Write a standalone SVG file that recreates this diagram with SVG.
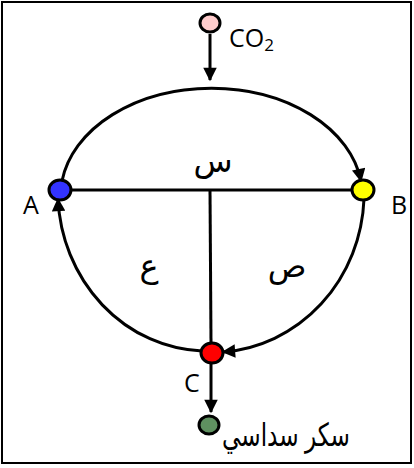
<svg xmlns="http://www.w3.org/2000/svg" width="414" height="468" viewBox="0 0 414 468">
<style>
.ln{fill:none;stroke:#000;stroke-width:3}
.nd{stroke:#000;stroke-width:3}
.t{font-family:"Open Sans","Liberation Sans","DejaVu Sans",sans-serif;font-size:25px;fill:#000}
.ar{font-family:"Liberation Sans","DejaVu Sans",sans-serif;font-size:32px;fill:#000}
</style>
<defs>
<marker id="ah" viewBox="0 0 10 10" refX="9" refY="5" markerWidth="5" markerHeight="4.5" orient="auto" markerUnits="strokeWidth">
<path d="M0,0 L10,5 L0,10 z" fill="#000"/>
</marker>
</defs>
<rect x="2" y="2" width="409" height="461" fill="#fff" stroke="#000" stroke-width="2"/>
<g id="connectors">
<path class="ln" d="M210,34 L210,80" marker-end="url(#ah)"/>
<path class="ln" d="M62,181 A151,108 0 0 1 361,181" marker-end="url(#ah)"/>
<path class="ln" d="M364,199 A152,160 0 0 1 223,352" marker-end="url(#ah)"/>
<path class="ln" d="M202,351 A150,160 0 0 1 58,199" marker-end="url(#ah)"/>
<path class="ln" d="M71,190 L351,190"/>
<path class="ln" d="M210,190 L211,343"/>
<path class="ln" d="M211,363 L211,412" marker-end="url(#ah)"/>
</g>
<g id="co2">
<ellipse class="nd" cx="210" cy="23" rx="10" ry="9" fill="#ffcccc"/>
<text class="t" x="229" y="47">CO<tspan font-size="17" dy="4">2</tspan></text>
</g>
<g id="A">
<ellipse class="nd" cx="60" cy="190" rx="11" ry="10" fill="#3333ff"/>
<text class="t" x="23" y="214">A</text>
</g>
<g id="B">
<ellipse class="nd" cx="363" cy="190" rx="11" ry="10" fill="#ffff00"/>
<text class="t" x="391" y="214">B</text>
</g>
<g id="C">
<ellipse class="nd" cx="212" cy="353" rx="11" ry="10" fill="#ff0000"/>
<text class="t" x="184" y="392">C</text>
</g>
<g id="sugar">
<ellipse class="nd" cx="209" cy="425" rx="10" ry="9" fill="#5f9060"/>
<text class="ar" font-size="27" x="222" y="446" direction="rtl" text-anchor="end" textLength="128" lengthAdjust="spacingAndGlyphs">سكر سداسي</text>
</g>
<g id="labels">
<text class="ar" x="213" y="172" text-anchor="middle">س</text>
<text class="ar" x="149" y="277" text-anchor="middle">ع</text>
<text class="ar" x="287" y="277" text-anchor="middle">ص</text>
</g>
</svg>
